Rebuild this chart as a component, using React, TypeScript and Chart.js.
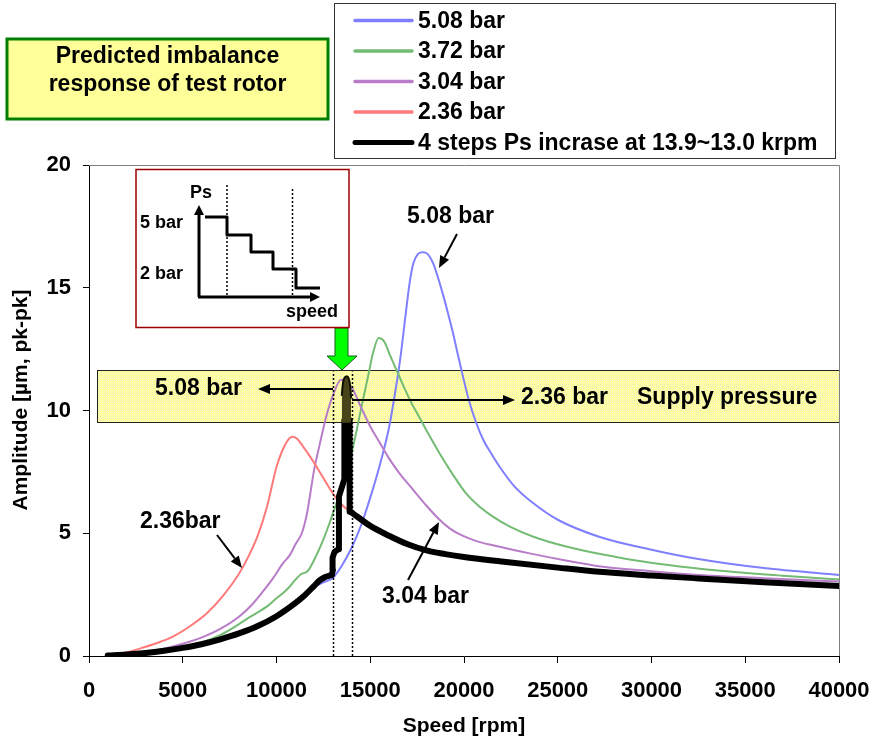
import React, { useEffect, useRef } from 'react';
import { Chart, registerables } from 'chart.js';

Chart.register(...registerables);

const FONT = 'Arial, "Liberation Sans", Helvetica, sans-serif';

// ---- axis ticks ----
const xTickValues = [0, 5000, 10000, 15000, 20000, 25000, 30000, 35000, 40000];
const yTickValues = [0, 5, 10, 15, 20];

// ---- legend ----
const legendLabels = ['5.08 bar', '3.72 bar', '3.04 bar', '2.36 bar', '4 steps Ps incrase at 13.9~13.0 krpm'];
const seriesColors = ['#7f7fff', '#74bb74', '#b87cc8', '#ff7b7b', '#000000'];

// ---- 5.08 bar ----
const speed508 = [1000, 2000, 3000, 4000, 5000, 6000, 7000, 8000, 9000, 10000, 11000, 11430, 12000, 12500, 13000, 13500, 14000, 14500, 15000, 15500, 16000, 16300, 16600, 16900, 17100, 17300, 17550, 17800, 18050, 18350, 18600, 18870, 19150, 19400, 19650, 19940, 20250, 20650, 21030, 21450, 21900, 22700, 23700, 25000, 27200, 30000, 32500, 36000, 40000];
const amp508 = [0.02, 0.06, 0.12, 0.21, 0.33, 0.48, 0.68, 0.92, 1.22, 1.62, 2.15, 2.42, 2.8, 3.0, 3.18, 3.7, 4.4, 5.3, 6.45, 7.75, 9.3, 10.6, 12.1, 14.0, 15.2, 16.0, 16.38, 16.45, 16.38, 16.0, 15.45, 14.75, 13.95, 13.2, 12.35, 11.4, 10.45, 9.5, 8.8, 8.25, 7.71, 6.9, 6.22, 5.55, 4.86, 4.33, 3.95, 3.58, 3.3];

// ---- 3.72 bar ----
const speed372 = [1000, 2000, 3000, 4000, 5000, 6000, 7000, 7500, 8000, 8500, 9000, 9500, 10000, 10400, 10700, 11000, 11300, 11650, 12000, 12500, 12870, 13000, 13500, 13750, 14000, 14250, 14600, 14900, 15150, 15450, 15750, 16000, 16400, 16800, 17200, 17600, 18100, 18700, 19400, 20100, 20800, 21500, 22500, 23700, 25500, 27500, 29000, 31500, 34300, 37000, 40000];
const amp372 = [0.03, 0.07, 0.13, 0.22, 0.35, 0.55, 0.85, 1.06, 1.3, 1.55, 1.78, 2.02, 2.35, 2.6, 2.82, 3.1, 3.33, 3.45, 3.9, 4.75, 5.5, 5.8, 6.85, 7.5, 8.25, 9.1, 10.4, 11.45, 12.35, 12.95, 12.8, 12.35, 11.65, 10.95, 10.3, 9.75, 9.05, 8.25, 7.4, 6.63, 6.1, 5.7, 5.25, 4.86, 4.45, 4.12, 3.91, 3.65, 3.43, 3.27, 3.12];

// ---- 3.04 bar ----
const speed304 = [1000, 2000, 3000, 4000, 5000, 6000, 7000, 8000, 8700, 9300, 9800, 10350, 10700, 11050, 11350, 11600, 11800, 12000, 12300, 12650, 13000, 13450, 14000, 14500, 15000, 15500, 16000, 16600, 17300, 18000, 18700, 19200, 19700, 20300, 20800, 21900, 23500, 25500, 27200, 30000, 32500, 36000, 40000];
const amp304 = [0.03, 0.08, 0.17, 0.3, 0.5, 0.75, 1.1, 1.6, 2.1, 2.65, 3.15, 3.78, 4.1, 4.6, 5.0, 5.7, 6.6, 7.55, 8.6, 9.75, 10.6, 11.25, 10.95, 10.15, 9.35, 8.7, 8.05, 7.4, 6.76, 6.12, 5.55, 5.22, 4.98, 4.78, 4.65, 4.45, 4.18, 3.88, 3.66, 3.45, 3.3, 3.17, 3.03];

// ---- 2.36 bar ----
const speed236 = [1000, 1800, 2700, 3600, 4500, 5400, 6300, 7200, 8000, 8500, 9000, 9500, 10000, 10300, 10600, 10850, 11100, 11400, 11900, 12500, 13000, 13500, 14000, 15000, 16000, 17000, 18000, 19000, 20000, 22000, 25000, 27200, 30000, 32500, 36000, 40000];
const amp236 = [0.03, 0.11, 0.3, 0.52, 0.8, 1.22, 1.75, 2.5, 3.35, 4.05, 4.9, 6.1, 7.7, 8.35, 8.78, 8.93, 8.85, 8.55, 8.0, 7.25, 6.63, 6.15, 5.85, 5.3, 4.9, 4.55, 4.3, 4.15, 4.03, 3.85, 3.6, 3.43, 3.28, 3.16, 3.0, 2.85];

// ---- 4-step Ps increase (black) ----
const blackLowSpeed = [1000, 2000, 3000, 4000, 5000, 6000, 7000, 8000, 9000, 10000, 11000, 11430, 12000, 12300, 12600, 12850, 12950];
const blackLowAmp = [0.02, 0.06, 0.12, 0.21, 0.33, 0.48, 0.68, 0.92, 1.22, 1.62, 2.15, 2.42, 2.85, 3.08, 3.22, 3.28, 3.3];
const blackRiseSpeed = [12950, 13010, 12990, 13100, 13300, 13330, 13620, 13620];
const blackRiseAmp = [3.3, 3.5, 4.0, 4.25, 4.35, 6.5, 7.2, 9.6];
const blackDropSpeed = [13900, 13900, 14000];
const blackDropAmp = [9.6, 5.88, 5.85];
const blobSpeed = [13480, 13550, 13650, 13750, 13850, 13930, 13980];
const blobAmp = [10.6, 11.15, 11.35, 11.4, 11.3, 11.0, 10.5];
const blobBase = 9.5;
const tailStart = 14000; // black follows the 2.36 bar curve from here

// ---- annotations (data coords) ----
const stepSpeeds = [13000, 14000];
const bandSpeed = [430, 40000];
const bandAmp = [9.55, 11.63];

const pts = (xs: number[], ys: number[]) => xs.map((x, i) => ({ x, y: ys[i] }));

function arrow(ctx: CanvasRenderingContext2D, x1: number, y1: number, x2: number, y2: number, head = 12, half = 5, lw = 2) {
  const a = Math.atan2(y2 - y1, x2 - x1);
  const bx = x2 - head * Math.cos(a);
  const by = y2 - head * Math.sin(a);
  ctx.save();
  ctx.strokeStyle = '#000';
  ctx.fillStyle = '#000';
  ctx.lineWidth = lw;
  ctx.beginPath();
  ctx.moveTo(x1, y1);
  ctx.lineTo(bx, by);
  ctx.stroke();
  ctx.beginPath();
  ctx.moveTo(x2, y2);
  ctx.lineTo(bx + half * Math.sin(a), by - half * Math.cos(a));
  ctx.lineTo(bx - half * Math.sin(a), by + half * Math.cos(a));
  ctx.closePath();
  ctx.fill();
  ctx.restore();
}

function text(ctx: CanvasRenderingContext2D, s: string, x: number, y: number, size = 23, align: CanvasTextAlign = 'left', rot = 0) {
  ctx.save();
  ctx.font = `bold ${size}px ${FONT}`;
  ctx.fillStyle = '#000';
  ctx.textAlign = align;
  ctx.textBaseline = 'middle';
  ctx.translate(x, y);
  if (rot) ctx.rotate(rot);
  ctx.fillText(s, 0, 0);
  ctx.restore();
}

export default function App() {
  const ref = useRef<HTMLCanvasElement | null>(null);

  useEffect(() => {
    document.body.style.margin = '0';
    const canvas = ref.current;
    if (!canvas) return;

    const pc = document.createElement('canvas');
    pc.width = 2;
    pc.height = 2;
    const pctx = pc.getContext('2d')!;
    pctx.fillStyle = '#ffffa0';
    pctx.fillRect(0, 0, 2, 2);
    pctx.fillStyle = '#eeeec4';
    pctx.fillRect(0, 0, 1, 1);

    const overlay = {
      id: 'overlay',
      beforeDatasetsDraw(chart: any) {
        const { ctx, scales } = chart;
        const xs = scales.x, ys = scales.y;
        const x0 = Math.round(xs.getPixelForValue(bandSpeed[0])) + 0.5;
        const x1 = Math.round(xs.getPixelForValue(bandSpeed[1])) + 0.5;
        const y0 = Math.round(ys.getPixelForValue(bandAmp[1])) + 0.5;
        const y1 = Math.round(ys.getPixelForValue(bandAmp[0])) + 0.5;
        ctx.save();
        ctx.fillStyle = ctx.createPattern(pc, 'repeat');
        ctx.fillRect(x0, y0, x1 - x0, y1 - y0);
        ctx.strokeStyle = '#222';
        ctx.lineWidth = 1;
        ctx.strokeRect(x0, y0, x1 - x0, y1 - y0);
        ctx.restore();
      },
      afterDatasetsDraw(chart: any) {
        const { ctx, scales } = chart;
        const xs = scales.x, ys = scales.y;
        ctx.save();
        ctx.strokeStyle = '#000';
        ctx.lineWidth = 1.5;
        ctx.setLineDash([2, 2]);
        stepSpeeds.forEach((s) => {
          const px = Math.round(xs.getPixelForValue(s)) + 0.5;
          ctx.beginPath();
          ctx.moveTo(px, ys.getPixelForValue(0));
          ctx.lineTo(px, ys.getPixelForValue(bandAmp[1]) + 1);
          ctx.stroke();
        });
        ctx.restore();

        text(ctx, '5.08 bar', 155, 389);
        arrow(ctx, 333, 389, 258, 389);
        arrow(ctx, 352, 400, 515, 400);
        text(ctx, '2.36 bar', 521, 398);
        text(ctx, 'Supply pressure', 637, 398);

        text(ctx, '5.08 bar', 407, 217);
        arrow(ctx, 457, 234, 439, 268);
        text(ctx, '2.36bar', 140, 522);
        arrow(ctx, 217, 535, 242, 568);
        text(ctx, '3.04 bar', 382, 597);
        arrow(ctx, 408, 580, 439, 522);

        ctx.save();
        ctx.fillStyle = '#00ff00';
        ctx.strokeStyle = '#1a5c1a';
        ctx.lineWidth = 1;
        ctx.beginPath();
        ctx.moveTo(335, 328);
        ctx.lineTo(348, 328);
        ctx.lineTo(348, 356);
        ctx.lineTo(357, 356);
        ctx.lineTo(342, 370);
        ctx.lineTo(327, 356);
        ctx.lineTo(335, 356);
        ctx.closePath();
        ctx.fill();
        ctx.stroke();
        ctx.restore();
      },
      afterDraw(chart: any) {
        const { ctx, chartArea } = chart;
        ctx.save();
        ctx.strokeStyle = '#808080';
        ctx.lineWidth = 1;
        ctx.beginPath();
        ctx.moveTo(chartArea.left, chartArea.top + 0.5);
        ctx.lineTo(chartArea.right + 0.5, chartArea.top + 0.5);
        ctx.lineTo(chartArea.right + 0.5, chartArea.bottom);
        ctx.stroke();
        ctx.restore();

        text(ctx, 'Amplitude [µm, pk-pk]', 21.5, 400, 21, 'center', -Math.PI / 2);

        ctx.save();
        ctx.fillStyle = '#ffff99';
        ctx.strokeStyle = '#008000';
        ctx.lineWidth = 3;
        ctx.fillRect(7, 39, 321, 80);
        ctx.strokeRect(7, 39, 321, 80);
        ctx.restore();
        text(ctx, 'Predicted imbalance', 167.5, 57, 23, 'center');
        text(ctx, 'response of test rotor', 167.5, 85, 23, 'center');

        ctx.save();
        ctx.fillStyle = '#fff';
        ctx.strokeStyle = '#333';
        ctx.lineWidth = 1;
        ctx.fillRect(334.5, 3.5, 501, 155);
        ctx.strokeRect(334.5, 3.5, 501, 155);
        legendLabels.forEach((lab, i) => {
          const cy = 20.5 + i * 30.5;
          ctx.strokeStyle = seriesColors[i];
          ctx.lineWidth = i === 4 ? 5 : 3.5;
          ctx.lineCap = 'round';
          ctx.beginPath();
          ctx.moveTo(355, cy);
          ctx.lineTo(412, cy);
          ctx.stroke();
          text(ctx, lab, 418, cy + 1, 23);
        });
        ctx.restore();

        ctx.save();
        ctx.fillStyle = '#fff';
        ctx.strokeStyle = '#990000';
        ctx.lineWidth = 1.5;
        ctx.fillRect(136, 169.5, 213, 158);
        ctx.strokeRect(136, 169.5, 213, 158);
        ctx.strokeStyle = '#000';
        ctx.lineWidth = 1.5;
        ctx.setLineDash([2, 2]);
        ctx.beginPath();
        ctx.moveTo(227, 185);
        ctx.lineTo(227, 296);
        ctx.moveTo(292.5, 189);
        ctx.lineTo(292.5, 296);
        ctx.stroke();
        ctx.setLineDash([]);
        ctx.lineWidth = 3;
        ctx.lineJoin = 'round';
        ctx.beginPath();
        ctx.moveTo(205, 217);
        ctx.lineTo(227, 217);
        ctx.lineTo(227, 235);
        ctx.lineTo(251, 235);
        ctx.lineTo(251, 252);
        ctx.lineTo(273, 252);
        ctx.lineTo(273, 269);
        ctx.lineTo(296, 269);
        ctx.lineTo(296, 288);
        ctx.lineTo(320, 288);
        ctx.stroke();
        ctx.restore();
        arrow(ctx, 199, 297, 199, 205, 10, 5, 3);
        arrow(ctx, 198, 297, 320, 297, 10, 5, 3);
        text(ctx, 'Ps', 190, 193, 18);
        text(ctx, '5 bar', 140, 223, 18);
        text(ctx, '2 bar', 140, 274, 18);
        text(ctx, 'speed', 286, 312, 18);
      },
    };

    const thin = (data: any[], color: string) => ({
      data,
      borderColor: color,
      backgroundColor: color,
      borderWidth: 2,
      pointRadius: 0,
      showLine: true,
      cubicInterpolationMode: 'monotone',
      fill: false,
    });
    const thick = (data: any[], mono: boolean) => ({
      data,
      borderColor: '#000',
      backgroundColor: '#000',
      borderWidth: 6,
      pointRadius: 0,
      showLine: true,
      cubicInterpolationMode: mono ? 'monotone' : 'default',
      tension: 0,
      borderJoinStyle: 'round',
      borderCapStyle: 'round',
      fill: false,
    });

    const tailIdx = speed236.map((s, i) => i).filter((i) => speed236[i] >= tailStart);
    const tailData = tailIdx.map((i) => ({ x: speed236[i], y: amp236[i] }));

    // first dataset is drawn on top
    const chart = new Chart(canvas, {
      type: 'scatter',
      data: {
        datasets: [
          {
            data: pts(blobSpeed, blobAmp),
            borderColor: '#111100',
            backgroundColor: '#47441a',
            borderWidth: 2,
            pointRadius: 0,
            showLine: true,
            cubicInterpolationMode: 'monotone',
            fill: { value: blobBase },
          },
          thick(tailData, true),
          thick(pts(blackDropSpeed, blackDropAmp), false),
          thick(pts(blackRiseSpeed, blackRiseAmp), false),
          thick(pts(blackLowSpeed, blackLowAmp), true),
          thin(pts(speed236, amp236), seriesColors[3]),
          thin(pts(speed304, amp304), seriesColors[2]),
          thin(pts(speed372, amp372), seriesColors[1]),
          thin(pts(speed508, amp508), seriesColors[0]),
        ] as any,
      },
      options: {
        responsive: false,
        maintainAspectRatio: false,
        animation: false,
        events: [],
        layout: { padding: { left: 0, right: 34, top: 165, bottom: 0 } },
        plugins: {
          legend: { display: false },
          tooltip: { enabled: false },
          title: { display: false },
        },
        scales: {
          x: {
            type: 'linear',
            min: 0,
            max: 40000,
            afterBuildTicks: (s: any) => {
              s.ticks = xTickValues.map((v) => ({ value: v }));
            },
            afterFit: (s: any) => {
              s.height = 90;
              s.paddingLeft = 0;
              s.paddingRight = 0;
            },
            ticks: {
              color: '#000',
              font: { family: FONT, size: 22, weight: 'bold' },
              padding: 15,
              maxRotation: 0,
              autoSkip: false,
              callback: (v: any) => String(v),
            },
            grid: { display: true, drawOnChartArea: false, drawTicks: true, tickLength: 7, color: '#000', lineWidth: 1 },
            border: { display: true, color: '#000', width: 1 },
            title: {
              display: true,
              text: 'Speed [rpm]',
              color: '#000',
              font: { family: FONT, size: 21, weight: 'bold' },
              padding: { top: 0, bottom: 7 },
            },
          },
          y: {
            type: 'linear',
            min: 0,
            max: 20,
            afterBuildTicks: (s: any) => {
              s.ticks = yTickValues.map((v) => ({ value: v }));
            },
            afterFit: (s: any) => {
              s.width = 89;
              s.paddingTop = 0;
              s.paddingBottom = 0;
            },
            ticks: {
              color: '#000',
              font: { family: FONT, size: 22, weight: 'bold' },
              padding: 12,
              autoSkip: false,
              callback: (v: any) => String(v),
            },
            grid: { display: true, drawOnChartArea: false, drawTicks: true, tickLength: 6, color: '#000', lineWidth: 1 },
            border: { display: true, color: '#000', width: 1 },
            title: { display: false },
          },
        },
      } as any,
      plugins: [overlay],
    });

    return () => chart.destroy();
  }, []);

  return <canvas ref={ref} width={873} height={746} style={{ display: 'block' }} />;
}
